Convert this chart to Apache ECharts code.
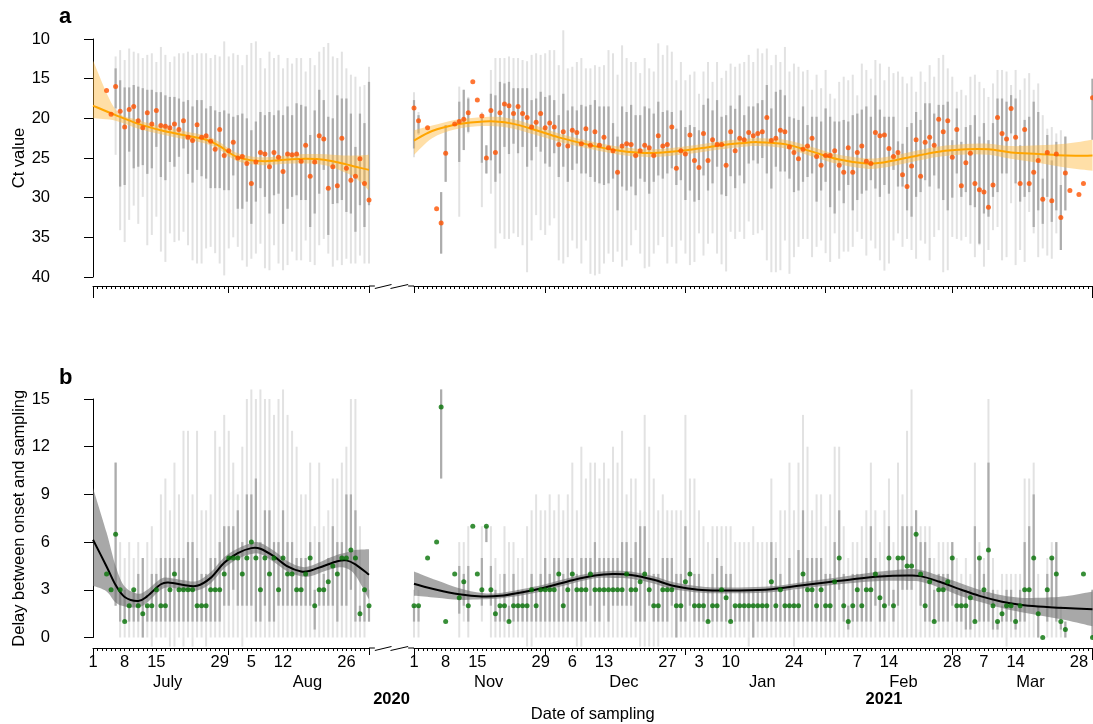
<!DOCTYPE html>
<html><head><meta charset="utf-8">
<script src="https://cdn.jsdelivr.net/npm/echarts@6/dist/echarts.min.js"></script>
<style>html,body{margin:0;padding:0;background:#fff}#c{width:1093px;height:724px}</style>
</head><body><div id="c"></div>
<script>
// ---------------- DATA ----------------
// Day index: left segment 0 = 1 Jul 2020 ... 61 = 31 Aug 2020
//            right segment 0 = 1 Nov 2020 ... 150 = 31 Mar 2021

// Panel a, left segment: Ct median / range / IQR
const ctL_med = [null,null,null,16.5,19.5,16.0,19.1,21.1,18.9,18.5,
  20.3,21.2,19.3,20.7,19.0,20.9,21.0,21.2,20.7,21.4,
  20.3,22.4,22.8,20.8,22.4,22.2,22.9,23.9,21.4,24.7,
  24.1,23.0,25.0,24.8,25.7,28.2,25.5,24.3,24.5,26.1,
  24.3,24.9,26.7,24.5,24.6,24.5,25.4,23.4,27.3,25.5,
  22.2,22.6,28.8,26.1,28.5,22.5,26.3,27.8,27.3,25.1,
  28.2,30.3];
const ctL_min = [null,null,null,null,null,12.2,11.4,12.65,11.2,11.6,
  11.8,12.4,12.0,11.8,12.9,11.0,12.0,12.9,12.2,11.8,
  11.8,11.6,12.0,11.8,11.8,11.8,12.4,12.0,12.2,10.3,
  12.2,11.8,12.0,13.3,12.0,10.5,10.3,12.4,13.7,11.6,
  12.4,12.0,13.7,12.4,13.1,12.4,12.4,14.1,12.4,13.3,
  11.6,11.0,10.5,12.2,12.4,11.6,13.7,14.5,14.75,16.0,
  15.8,13.5];
const ctL_q1 = [null,null,null,null,null,13.7,15.2,16.1,16.1,15.8,
  16.0,16.2,16.4,16.4,16.7,16.7,17.1,17.3,17.3,17.5,
  17.9,17.7,18.5,17.7,17.7,18.75,18.46,19.0,19.2,19.0,
  19.4,19.8,19.6,19.4,20.0,21.5,20.4,19.2,19.6,19.2,
  19.6,19.0,19.6,18.5,19.6,18.1,18.3,18.5,22.1,19.0,
  16.4,17.7,19.8,20.0,17.1,17.5,17.5,19.4,23.6,19.4,
  20.6,15.4];
const ctL_q3 = [null,null,null,null,null,18.75,28.6,28.4,24.2,26.3,
  26.1,25.9,27.0,26.3,23.6,27.4,27.8,25.5,26.1,24.85,
  23.8,27.0,28.1,26.5,27.3,27.6,28.8,28.8,28.8,29.06,
  29.06,27.2,31.4,31.4,30.5,33.3,30.5,28.8,29.9,32.0,
  29.7,29.5,33.3,31.4,29.9,29.7,30.3,30.3,33.7,32.0,
  29.5,26.5,34.7,30.8,30.7,30.3,31.8,32.0,34.3,30.95,
  33.7,30.95];
const ctL_max = [null,null,null,null,null,24.6,34.1,35.6,32.8,31.0,
  33.3,29.9,36.0,34.7,32.4,36.8,38.1,34.5,35.6,35.4,
  34.3,36.0,37.9,38.3,38.3,36.4,36.2,37.0,38.3,39.8,
  36.4,35.0,36.2,37.9,38.7,37.7,37.05,35.8,38.9,39.15,
  36.0,38.3,39.15,38.5,36.8,37.9,37.9,35.4,38.1,38.5,
  36.0,35.2,37.05,38.7,37.9,38.5,37.7,38.3,38.3,37.3,
  38.3,38.3];

// Panel a, right segment
const ctR_med = [18.7,20.3,null,21.2,null,31.4,33.2,24.4,null,20.7,
  20.4,20.1,19.3,15.4,17.7,19.7,25.0,19.0,24.3,19.3,
  18.2,18.4,19.4,18.5,19.4,19.9,21.1,20.5,19.4,21.2,
  20.6,21.1,23.3,21.7,23.5,21.5,21.8,23.2,21.3,23.4,
  21.7,23.4,22.4,23.7,24.1,26.8,23.5,23.2,23.3,24.7,
  24.1,23.4,23.7,24.7,22.2,23.5,23.3,21.1,26.3,24.1,
  24.5,22.1,25.3,26.2,21.9,25.3,22.7,23.3,23.3,25.9,
  21.7,24.1,22.5,22.7,21.8,22.2,21.9,21.7,19.9,22.8,
  22.5,21.5,21.7,23.6,24.3,25.1,23.9,23.5,22.5,24.8,
  25.9,24.7,24.7,24.1,25.9,26.8,23.7,26.8,24.3,23.5,
  25.4,25.7,21.8,22.2,22.1,23.8,24.8,24.3,27.1,28.6,
  26.0,22.7,27.3,23.0,22.4,23.4,20.1,21.7,20.3,24.9,
  21.4,28.5,25.6,24.4,28.2,29.0,29.3,31.2,28.4,19.9,
  21.9,22.6,18.75,22.4,28.2,21.4,28.2,26.8,25.3,30.2,
  24.3,30.4,24.5,32.5,26.9,29.1,null,29.6,28.2,null,
  17.4];
const ctR_min = [16.7,19.2,null,null,null,null,29.3,20.85,null,null,
  16.0,16.4,17.3,null,null,19.2,23.4,13.9,12.4,12.4,
  12.4,12.2,12.4,12.4,12.65,12.8,12.0,11.8,12.0,11.8,
  11.4,11.4,13.3,8.9,13.7,13.5,12.9,12.4,13.7,13.7,
  13.3,13.5,13.3,11.4,11.8,14.5,10.8,12.4,12.9,12.9,
  14.3,12.4,13.7,14.1,10.55,12.0,10.8,11.6,15.2,12.9,
  15.2,14.5,14.1,16.9,14.1,12.9,15.4,12.9,14.9,14.0,
  13.1,13.5,13.1,12.9,12.0,12.9,11.2,11.8,11.2,13.3,
  12.0,12.9,11.0,14.1,13.1,13.5,14.1,13.9,16.4,14.5,
  16.2,13.9,16.9,17.5,15.4,14.75,15.2,14.5,17.1,13.1,
  13.9,15.0,12.65,13.1,15.2,13.5,14.3,14.1,14.75,15.6,
  14.75,16.65,14.1,15.4,13.3,14.75,12.4,12.0,13.7,14.75,
  16.65,16.4,17.1,14.75,14.5,15.4,16.2,17.3,15.6,13.9,
  13.9,14.1,15.8,13.9,16.4,14.96,14.3,16.4,15.6,19.6,
  21.3,21.1,21.9,21.5,22.3,null,null,null,null,null,
  15.0];
const ctR_q1 = [17.7,19.6,null,null,null,null,29.3,20.85,null,null,
  17.9,16.4,17.5,null,null,20.0,23.4,16.9,17.1,15.4,
  15.6,15.4,16.2,16.2,16.2,16.2,17.7,17.5,16.65,17.3,
  17.1,17.7,19.6,16.9,19.0,18.5,19.0,18.3,18.5,18.3,
  17.7,18.5,18.5,18.5,20.6,22.3,18.5,19.2,18.3,19.6,
  19.6,18.5,18.75,19.4,17.9,19.2,19.0,19.2,21.3,19.0,
  21.1,20.85,21.1,21.5,18.3,17.5,19.0,17.7,19.8,19.6,
  18.4,18.8,17.1,19.6,18.5,18.5,18.1,17.7,15.8,18.75,
  16.65,16.4,17.1,19.8,20.0,20.2,18.5,20.85,19.8,19.8,
  20.4,18.75,19.8,20.4,20.4,20.2,20.4,19.6,19.4,18.9,
  18.5,19.8,17.1,18.9,19.8,19.8,19.8,22.9,23.2,21.1,
  20.6,19.2,20.2,18.1,18.1,19.4,18.3,18.3,17.9,22.75,
  18.75,22.96,21.1,20.85,19.6,22.3,20.6,22.75,20.6,17.5,
  17.5,17.9,17.07,17.5,23.4,20.2,19.8,17.9,19.2,27.6,
  22.1,25.3,22.96,28.4,22.3,null,null,null,null,null,
  15.0];
const ctR_q3 = [23.8,21.9,null,null,null,null,37.05,28.0,null,null,
  25.5,24.0,21.7,null,null,25.6,26.95,25.3,28.0,26.95,
  23.6,24.5,23.2,24.4,23.6,26.1,25.3,23.6,24.2,25.7,
  26.1,24.4,27.4,26.1,28.0,26.5,25.7,26.95,26.95,27.4,
  28.0,28.2,28.4,28.2,27.6,31.6,28.6,29.1,28.6,29.7,
  27.6,28.0,29.5,28.0,27.2,27.6,26.95,26.3,28.4,27.8,
  30.3,29.1,30.5,30.3,27.2,29.1,28.2,26.1,29.6,29.8,
  27.3,28.8,27.2,28.2,25.7,25.3,25.7,25.0,26.95,28.85,
  26.1,26.7,26.7,27.6,29.3,29.1,28.0,27.4,26.95,30.5,
  29.1,28.0,31.2,32.0,29.1,30.7,28.4,31.6,30.3,29.5,
  29.1,27.8,28.85,29.9,28.4,29.5,26.5,28.6,28.6,31.6,
  32.4,29.9,29.3,27.8,28.6,27.2,28.85,30.3,31.6,30.0,
  26.95,29.9,29.3,30.95,31.2,35.8,32.0,32.4,29.9,29.3,
  26.95,26.95,21.9,28.2,30.5,29.9,29.3,33.7,31.6,33.3,
  29.9,33.05,31.6,36.6,31.6,null,null,null,null,null,
  22.7];
const ctR_max = [24.9,22.1,null,null,null,null,37.05,28.0,null,null,
  32.4,24.0,21.9,null,null,31.2,26.95,29.5,36.4,34.5,
  35.2,35.2,34.5,34.95,36.0,39.4,35.4,32.2,34.1,34.7,
  33.5,32.6,37.9,38.3,37.5,35.4,36.4,38.3,35.4,39.6,
  39.8,39.6,38.3,37.05,38.1,36.8,38.7,37.9,36.0,34.1,
  37.05,38.9,38.7,37.05,36.0,34.95,38.3,36.2,38.3,35.4,
  37.05,38.5,38.1,34.5,37.3,35.8,34.5,37.05,38.4,39.3,
  34.3,35.2,34.3,35.2,33.0,34.7,34.5,34.1,37.9,39.4,
  39.4,39.15,35.4,39.6,37.5,36.2,35.2,35.2,37.5,36.2,
  35.4,37.0,38.1,34.5,37.7,36.8,36.8,36.2,34.3,35.2,
  37.3,35.4,36.4,37.9,39.2,38.3,35.4,34.5,36.2,35.2,
  36.6,37.7,35.4,35.8,37.9,34.95,34.1,39.4,39.15,34.95,
  35.2,35.4,34.95,35.8,37.5,36.0,38.7,36.6,34.1,33.7,
  37.9,37.5,30.7,38.5,36.6,38.1,31.8,34.5,37.5,36.4,
  37.3,37.7,34.5,36.6,31.6,null,null,null,null,null,
  22.7];

// Panel a smooth fit + confidence band
const fitA_L_days = [0,5,10,15,20,25,28,30,32,35,38,41,44,47,50,53,56,58,61];
const fitA_L_val  = [18.4,19.6,20.7,21.5,22.1,22.7,23.5,24.3,24.9,25.3,25.4,25.3,25.15,25.1,25.15,25.4,25.8,26.1,26.5];
const fitA_L_lo   = [12.7,18.9,20.2,21.0,21.6,22.2,23.0,23.8,24.4,24.8,24.9,24.8,24.6,24.5,24.5,24.6,24.7,24.7,24.6];
const fitA_L_hi   = [20.0,20.3,21.3,22.0,22.6,23.2,24.0,24.8,25.4,25.8,25.9,25.8,25.7,25.7,25.8,26.2,26.9,27.5,29.1];
const fitA_R_days = [0,4,9,14,18,22,27,32,38,44,50,54,59,63,68,72,76,82,88,94,100,104,110,116,122,127,132,138,144,150];
const fitA_R_val  = [22.8,21.6,20.8,20.45,20.4,20.7,21.5,22.4,23.25,23.95,24.35,24.35,24.1,23.8,23.4,23.15,23.0,23.25,24.2,25.2,25.7,25.55,24.85,24.2,23.9,23.9,24.3,24.5,24.7,24.7];
const fitA_R_lo   = [21.5,20.9,20.2,19.9,19.8,20.1,20.95,21.9,22.75,23.45,23.85,23.85,23.6,23.3,22.9,22.65,22.5,22.7,23.6,24.6,25.05,24.9,24.2,23.55,23.25,23.2,23.5,23.4,23.2,22.7];
const fitA_R_hi   = [24.6,22.5,21.4,21.0,21.0,21.3,22.1,22.95,23.75,24.45,24.85,24.85,24.6,24.3,23.9,23.65,23.5,23.8,24.8,25.8,26.35,26.2,25.5,24.85,24.55,24.6,25.1,25.6,26.2,26.6];

// Panel b, left segment: delay median / range / IQR
const dlL_med = [null,null,null,4,3,6.5,3,1,2,3,
  2,1.5,2,2,3,2,2,3,4,3,
  3,3,3,2,2,2,3,3,3,4,
  5,5,5,4,5,6,5,3,5,4,
  5,3,5,4,4,3,3,4,5,2,
  3,3,3.5,4.5,4,5,5,5.5,5,1.5,
  3,2];
const dlL_min = [null,null,null,null,null,2,0,0,0,0,
  0,0,0,-0.57,0,0,0,-0.57,-0.57,0,
  -0.57,0,-0.57,0,0,-0.57,0,0,0,0,
  0,0,0,-0.57,0,0,0,0,0,0,
  0,0,0,0,0,0,0,0,0,0,
  0,0,0,0,0,0,0,0,0,0,
  0,1];
const dlL_q1 = [null,null,null,null,null,2,1,1,1,1,
  1,0,1,1,1,1,1,1,1,1,
  1,1,1,1,1,1,1,1,1,2,
  2,3,2,2,2,2,1,1,2,1,
  1,2,2,2,2,2,2,2,2,0.5,
  2,2,2,2,1,2,2,3,1,1,
  1,1];
const dlL_q3 = [null,null,null,null,null,11,3,3,2,3,
  4,5,2,4,4,5,5,5,5,5,
  5,6,6,5,4,4,5,5,6,7,
  7,7,8,6,9,9,10,6,8,8,
  6,6,8,6,6,5,5,5,6,3,
  6,4,5,7,6,6,9,9,8,2,
  3,2];
const dlL_max = [null,null,null,null,null,11,6,5,6,5,
  6,5,6,7,5,9,10,8,11,9,
  13,13,9,13,8,8,9,13,12,14,
  13,11,9,12,15,15.6,15,15.6,15,15,
  14,15,15.6,14,13,12,9,9,11,7,
  11,7,8,10,10,11,12,15,15,7,
  4,3];

// Panel b, right segment
const dlR_med = [2,2,null,5,null,6,14.5,1,null,4,
  2.5,3.5,2,7,4,3,7,3,1.5,2,
  2,1,2,2,2,2,3,2,3,3,
  3,3,4,2,3,4,3,3,3,4,
  3,3,3,3,3,3,3,4,3,3,
  3.5,4,3,2,2,3,3,3,2,2,
  3.5,4,2,2,2,1,2,2,3,2.5,
  1,2,2,2,2,2,2,2,2,3.5,
  2,3,2,2,2,2,4,3,3,2,
  3,2,2,3.5,5,2,1,2,3,2,
  3,3,4,2.5,2,5,2,5,5,4.5,
  4.5,6.5,4,2,3.5,1,3,3,3.5,5,
  2,2,2,2.5,1,5,3,5.5,2,1,
  1.5,2,2,1,2,3,3,5,1.5,0,
  3,5,4,1,0.5,null,null,null,4,null,
  0];
const dlR_min = [0,0,null,null,null,null,10,null,null,null,
  0,1,0,null,null,1,6,0,0,0,
  0,0,0,0,0,-0.57,-0.57,0,0,0,
  0,0,0,0,0,0,-0.57,-0.57,0,0,
  0,0,0,0,0,0,0,0,0,0,
  -0.57,-0.57,-0.57,-0.57,-0.57,0,0,0,0,0,
  0,0,0,0,0,0,0,0,0,0,
  0,0,0,0,-0.57,0,0,0,0,0,
  0,0,0,0,-0.57,0,0,0,0,0,
  0,0,0,0,0,0,0,0,0,0,
  0,0,0,0,0,0,0,0,0,0,
  0,0,0,0,0,0,0,0,0,0,
  0,0,0,0,0,0,0,0,0,0,
  0,-0.57,0,0,0,0,0,0,0,null,
  0,0,0,0,0,null,null,null,null,null,
  0];
const dlR_q1 = [1,1,null,null,null,null,10,null,null,null,
  1.5,2,1,null,null,2,6,2,1,1,
  1,1,1,1,1,1,1,1,1,1,
  1,1,1,1,1,1,1,1,1,2,
  1,1,2,1,2,2,2,2,2,1,
  1,1,2,1,1,1,1,2,0,1,
  1,2,1,1,1,1,1,1,1,1,
  1,1,1,1,1,0,1,1,1,1,
  1,1,1,1,1,1,1,1,1,1,
  1,1,1,1,3,1,0.5,1,1,1,
  1,1,2,1,1,2,1,2,3,3,
  3,4,2,1,1,1,1,1,1,2,
  1,1,0.5,0.5,1,1,1,1,0.5,0.5,
  1,1,1,0.5,1,1,2,2,0,null,
  1,2,1,0.5,0,null,null,null,null,null,
  0];
const dlR_q3 = [2,2,null,null,null,null,15.6,null,null,null,
  4.5,4,4.5,null,null,5,7,4.5,3,2,
  4,2,4,3,3,3,4,3,4,5,
  4,5,5,4,5,5,4,5,5,5,
  6,5,5,5,5,5,6,6,5,6,
  7,7,5,4,4,5,5,5,4,4,
  7,5,4,4,3,3,4,5,4.5,4,
  4,2,3,3,3,3,3,3,3,6,
  5,4,3,5,3,5.5,8,5,5,5,
  5,4,4,6,8,4,2,4,4,4,
  5,7,5,4,4,7,3,5,7,7,
  7,8,6,6,5,3,4,4,4,6,
  3,3,3,3,7,5,4,11,3,1,
  2,3,3,2,3,6,7,9,2,null,
  4,5,6,1,1,null,null,null,null,null,
  3];
const dlR_max = [3,3,null,null,null,null,15.6,null,null,null,
  6,6,7,null,null,7,7,7,5,4,
  7,6,6,5,5,7,8,9,8,8,
  9,8,9,8,9,11,8,12,10,11,
  11,10,11,10,12,11,13,9,10,10,
  8,14,12,10,8,9,8,8,8,8,
  14,10,10,8,7,6,7,7,7,7,
  7,6,6,6,6,7,6,6,6,10,
  6,8,8,11,8,11,14,12,8,9,
  9,7,9,12,12,7,5,6,6,7,
  8,11,8,6,8,10,6,11,9,13,
  15.6,8,7,7,7,5,6,6,6,6,
  5,4,5,4,11,6,5,15,5,3,
  4,4,4,4,4,10,10,11,4,null,
  5,6,6,2,1,null,null,null,null,null,
  3];

// Panel b smooth fit + confidence band
const fitB_L_days = [0,3,5,7,10,12,15,17,20,23,26,29,32,35,37,40,43,46,48,51,54,56,58,61];
const fitB_L_val  = [6.15,4.47,3.3,2.55,2.3,2.6,3.35,3.45,3.3,3.25,3.75,4.7,5.3,5.62,5.58,5.1,4.47,4.15,4.2,4.5,4.8,4.85,4.6,3.95];
const fitB_L_lo   = [3.25,2.9,2.2,1.95,1.9,2.2,3.0,3.15,3.0,2.95,3.4,4.35,4.95,5.25,5.25,4.75,4.15,3.85,3.85,4.15,4.4,4.35,3.9,2.4];
const fitB_L_hi   = [9.4,6.6,4.5,3.2,2.75,3.0,3.7,3.75,3.6,3.55,4.1,5.05,5.6,5.95,5.95,5.45,4.8,4.45,4.5,4.85,5.2,5.35,5.5,5.55];
const fitB_R_days = [0,5,10,15,19,24,29,35,40,44,48,53,57,62,66,72,79,85,91,97,103,109,112,116,121,125,130,134,138,144,150];
const fitB_R_val  = [3.38,3.0,2.72,2.58,2.62,2.85,3.15,3.6,3.9,3.99,3.93,3.63,3.27,3.03,2.96,2.96,3.04,3.25,3.46,3.67,3.84,3.9,3.86,3.52,3.0,2.62,2.25,2.06,1.95,1.85,1.78];
const fitB_R_lo   = [2.62,2.5,2.37,2.4,2.45,2.65,2.95,3.4,3.72,3.75,3.7,3.4,3.05,2.85,2.78,2.78,2.85,3.05,3.25,3.42,3.55,3.55,3.5,3.15,2.6,2.25,1.85,1.6,1.4,1.1,0.7];
const fitB_R_hi   = [4.15,3.6,3.1,2.8,2.8,3.05,3.35,3.8,4.1,4.2,4.15,3.85,3.5,3.25,3.15,3.15,3.22,3.45,3.68,3.92,4.15,4.3,4.25,3.9,3.4,3.0,2.65,2.5,2.5,2.6,2.9];

// Axis ticks / labels
const majorTicksL = [30, 61];                 // 31 Jul, 31 Aug
const majorTicksR = [0, 29, 60, 91, 119];     // 1 Nov, 30 Nov, 31 Dec, 31 Jan, 28 Feb
const dayTicksL  = [0,7,14,28,35,42,56];
const dayLabelsL = ['1','8','15','29','5','12','26'];
const dayTicksR  = [0,7,14,28,35,42,56,63,70,84,98,105,119,126,133,147];
const dayLabelsR = ['1','8','15','29','6','13','27','3','10','24','7','14','28','7','14','28'];
const monthTicksL = [16.5, 47.4];
const monthLabelsL = ['July','Aug'];
const monthTicksR = [16.5, 46.4, 77, 108.2, 136.3];
const monthLabelsR = ['Nov','Dec','Jan','Feb','Mar'];
const yearLabels = ['2020','2021'];
const year2021Tick = 103.9;
const ctTicks = {min:10, max:40, step:5};
const delayTicks = {min:0, max:15, step:3};

// ---------------- CHART ----------------
const FONT = '"Liberation Sans", Arial, Helvetica, sans-serif';
const LEN_L = ctL_med.length - 1, LEN_R = ctR_med.length - 1;
const allL = Array.from({length: LEN_L + 1}, (_, i) => i);
const allR = Array.from({length: LEN_R + 1}, (_, i) => i);

function barData(lo, hi) {
  const out = [];
  for (let i = 0; i < lo.length; i++) if (lo[i] != null && hi[i] != null) out.push([i, lo[i], hi[i]]);
  return out;
}
function ptData(a) {
  const out = [];
  for (let i = 0; i < a.length; i++) if (a[i] != null) out.push([i, a[i]]);
  return out;
}
function segRender(color, width) {
  return function (params, api) {
    const a = api.coord([api.value(0), api.value(1)]);
    const b = api.coord([api.value(0), api.value(2)]);
    return {type: 'line', shape: {x1: a[0], y1: a[1], x2: b[0], y2: b[1]},
      style: {stroke: color, lineWidth: width}};
  };
}
// Catmull-Rom spline through pixel points (continues an open path)
function spline(p) {
  let s = '';
  for (let i = 0; i < p.length - 1; i++) {
    const p0 = p[Math.max(i - 1, 0)], p1 = p[i], p2 = p[i + 1], p3 = p[Math.min(i + 2, p.length - 1)];
    const c1x = p1[0] + (p2[0] - p0[0]) / 6, c1y = p1[1] + (p2[1] - p0[1]) / 6;
    const c2x = p2[0] - (p3[0] - p1[0]) / 6, c2y = p2[1] - (p3[1] - p1[1]) / 6;
    s += ' C' + c1x + ' ' + c1y + ' ' + c2x + ' ' + c2y + ' ' + p2[0] + ' ' + p2[1];
  }
  return s;
}
function bandRender(days, lo, hi, color) {
  return function (params, api) {
    if (params.dataIndex !== 0) return null;
    const top = days.map((d, i) => api.coord([d, hi[i]]));
    const bot = days.map((d, i) => api.coord([d, lo[i]])).reverse();
    const path = 'M' + top[0][0] + ' ' + top[0][1] + spline(top) +
      ' L' + bot[0][0] + ' ' + bot[0][1] + spline(bot) + ' Z';
    return {type: 'path', shape: {pathData: path}, style: {fill: color, stroke: null}};
  };
}
function curveRender(days, v, color, width) {
  return function (params, api) {
    if (params.dataIndex !== 0) return null;
    const p = days.map((d, i) => api.coord([d, v[i]]));
    return {type: 'path', shape: {pathData: 'M' + p[0][0] + ' ' + p[0][1] + spline(p)},
      style: {fill: null, stroke: color, lineWidth: width}};
  };
}
function lookup(ticks, labels) {
  return function (v) {
    for (let i = 0; i < ticks.length; i++) if (Math.abs(ticks[i] - v) < 1e-6) return labels[i];
    return '';
  };
}

const black = {color: '#000', width: 1};
const lbl = {color: '#000', fontSize: 16.5, fontFamily: FONT};

const grids = [
  {left: 93, top: 39, width: 276, height: 238},
  {left: 414, top: 39, width: 678.5, height: 238},
  {left: 93, top: 399, width: 276, height: 238.5},
  {left: 414, top: 399, width: 678.5, height: 238.5}
].map(g => Object.assign({containLabel: false, outerBoundsMode: 'none'}, g));

const xAxis = [];
function addX(g, max, off, o) {
  xAxis.push(Object.assign({type: 'value', gridIndex: g, min: 0, max: max, position: 'bottom', offset: off,
    splitLine: {show: false}, axisLine: {show: false, onZero: false}, axisTick: {show: false},
    axisLabel: {show: false}}, o));
  return xAxis.length - 1;
}
function axisSet(g, max, off, all, major, endTick, labels, months) {
  const main = addX(g, max, off, {
    axisLine: {show: true, onZero: false, lineStyle: black},
    axisTick: {show: true, customValues: all, length: 3, lineStyle: black},
    axisLabel: labels ? Object.assign({show: true, customValues: labels[0], formatter: lookup(labels[0], labels[1]), margin: 6}, lbl) : {show: false}
  });
  addX(g, max, off, {axisTick: {show: true, customValues: major, length: 7, lineStyle: black}});
  addX(g, max, off, {axisTick: {show: true, customValues: endTick, length: 12, lineStyle: black}});
  if (months) addX(g, max, off, {axisLabel: Object.assign({show: true, customValues: months[0], formatter: lookup(months[0], months[1]), margin: 26}, lbl)});
  return main;
}
const xAL = axisSet(0, LEN_L, 9, allL, majorTicksL, [0], null, null);
const xAR = axisSet(1, LEN_R, 9, allR, majorTicksR, [LEN_R], null, null);
const xBL = axisSet(2, LEN_L, 10.5, allL, majorTicksL, [0], [dayTicksL, dayLabelsL], [monthTicksL, monthLabelsL]);
const xBR = axisSet(3, LEN_R, 10.5, allR, majorTicksR, [LEN_R], [dayTicksR, dayLabelsR], [monthTicksR, monthLabelsR]);

function yAx(g, t, inverse, show, name, gap) {
  return {type: 'value', gridIndex: g, min: t.min, max: t.max, interval: t.step, inverse: inverse, show: show,
    offset: 25, position: 'left', splitLine: {show: false},
    axisLine: {show: true, lineStyle: black}, axisTick: {show: true, length: 9, lineStyle: black},
    axisLabel: Object.assign({margin: 18}, lbl),
    name: name, nameLocation: 'middle', nameGap: gap, nameRotate: 90,
    nameTextStyle: {color: '#000', fontSize: 16.5, fontFamily: FONT}};
}
const yAxis = [
  yAx(0, ctTicks, true, true, 'Ct value', 33),
  yAx(1, ctTicks, true, false, '', 0),
  yAx(2, delayTicks, false, true, 'Delay between onset and sampling', 39),
  yAx(3, delayTicks, false, false, '', 0)
];

const LIGHT = '#e2e2e2', DARK = '#acacac';
const series = [];
function panel(xi, yi, mn, q1, q3, mx, med, fd, fv, flo, fhi, lineCol, bandCol, ptCol) {
  series.push({type: 'custom', xAxisIndex: xi, yAxisIndex: yi, renderItem: segRender(LIGHT, 2),
    data: barData(mn, mx), encode: {x: 0, y: [1, 2]}, clip: false, silent: true, z: 1});
  series.push({type: 'custom', xAxisIndex: xi, yAxisIndex: yi, renderItem: segRender(DARK, 2.2),
    data: barData(q1, q3), encode: {x: 0, y: [1, 2]}, clip: false, silent: true, z: 2});
  const bandRows = fd.map((d, i) => [d, flo[i], fhi[i]]);
  series.push({type: 'custom', xAxisIndex: xi, yAxisIndex: yi, renderItem: bandRender(fd, flo, fhi, bandCol),
    data: bandRows, encode: {x: 0, y: [1, 2]}, clip: false, silent: true, z: 3});
  series.push({type: 'custom', xAxisIndex: xi, yAxisIndex: yi, renderItem: curveRender(fd, fv, lineCol, 2),
    data: fd.map((d, i) => [d, fv[i]]), encode: {x: 0, y: 1}, clip: false, silent: true, z: 4});
  series.push({type: 'scatter', xAxisIndex: xi, yAxisIndex: yi, data: ptData(med), symbolSize: 5,
    itemStyle: {color: ptCol}, clip: false, silent: true, z: 5});
}
const ORANGE_BAND = 'rgba(255,185,60,0.45)', GRAY_BAND = 'rgba(110,110,110,0.6)';
panel(xAL, 0, ctL_min, ctL_q1, ctL_q3, ctL_max, ctL_med, fitA_L_days, fitA_L_val, fitA_L_lo, fitA_L_hi, '#ffa500', ORANGE_BAND, '#ff5200');
panel(xAR, 1, ctR_min, ctR_q1, ctR_q3, ctR_max, ctR_med, fitA_R_days, fitA_R_val, fitA_R_lo, fitA_R_hi, '#ffa500', ORANGE_BAND, '#ff5200');
panel(xBL, 2, dlL_min, dlL_q1, dlL_q3, dlL_max, dlL_med, fitB_L_days, fitB_L_val, fitB_L_lo, fitB_L_hi, '#000000', GRAY_BAND, '#067306');
panel(xBR, 3, dlR_min, dlR_q1, dlR_q3, dlR_max, dlR_med, fitB_R_days, fitB_R_val, fitB_R_lo, fitB_R_hi, '#000000', GRAY_BAND, '#067306');

const chart = echarts.init(document.getElementById('c'));
chart.setOption({animation: false, backgroundColor: '#fff', grid: grids, xAxis: xAxis, yAxis: yAxis, series: series});

// decorations placed from the axes' own pixel scale
const xEnd = chart.convertToPixel({xAxisIndex: xAL}, LEN_L);
const xStart = chart.convertToPixel({xAxisIndex: xAR}, 0);
const yAxA = chart.convertToPixel({yAxisIndex: 0}, ctTicks.max) + 9;
const yAxB = chart.convertToPixel({yAxisIndex: 2}, delayTicks.min) + 10.5;
const xRight = chart.convertToPixel({xAxisIndex: xAR}, LEN_R);
const x2021 = chart.convertToPixel({xAxisIndex: xBR}, year2021Tick);
const gap = (xStart - xEnd);
function breakMark(y) {
  const a = xEnd + gap * 0.13, m = xEnd + gap * 0.5, b = xStart - gap * 0.13;
  return [
    {type: 'line', shape: {x1: xEnd, y1: y, x2: a, y2: y}, style: {stroke: '#000', lineWidth: 1}},
    {type: 'line', shape: {x1: a, y1: y + 2.5, x2: m, y2: y - 1.5}, style: {stroke: '#000', lineWidth: 1}},
    {type: 'line', shape: {x1: m - 1, y1: y + 2.5, x2: b, y2: y - 1.5}, style: {stroke: '#000', lineWidth: 1}},
    {type: 'line', shape: {x1: b, y1: y, x2: xStart, y2: y}, style: {stroke: '#000', lineWidth: 1}}
  ];
}
const g = [].concat(breakMark(yAxA), breakMark(yAxB));
g.push({type: 'text', left: 59, top: 6, style: {text: 'a', font: 'bold 22px ' + FONT, fill: '#000'}});
g.push({type: 'text', left: 59, top: 367, style: {text: 'b', font: 'bold 22px ' + FONT, fill: '#000'}});
g.push({type: 'text', x: (xEnd + xStart) / 2, y: yAxB + 51, style: {text: yearLabels[0], font: 'bold 16.5px ' + FONT, fill: '#000', align: 'center', verticalAlign: 'middle'}});
g.push({type: 'text', x: x2021, y: yAxB + 51, style: {text: yearLabels[1], font: 'bold 16.5px ' + FONT, fill: '#000', align: 'center', verticalAlign: 'middle'}});
g.push({type: 'text', x: (grids[0].left + xRight) / 2, y: yAxB + 66, style: {text: 'Date of sampling', font: '16.5px ' + FONT, fill: '#000', align: 'center', verticalAlign: 'middle'}});
chart.setOption({graphic: g});
</script></body></html>
